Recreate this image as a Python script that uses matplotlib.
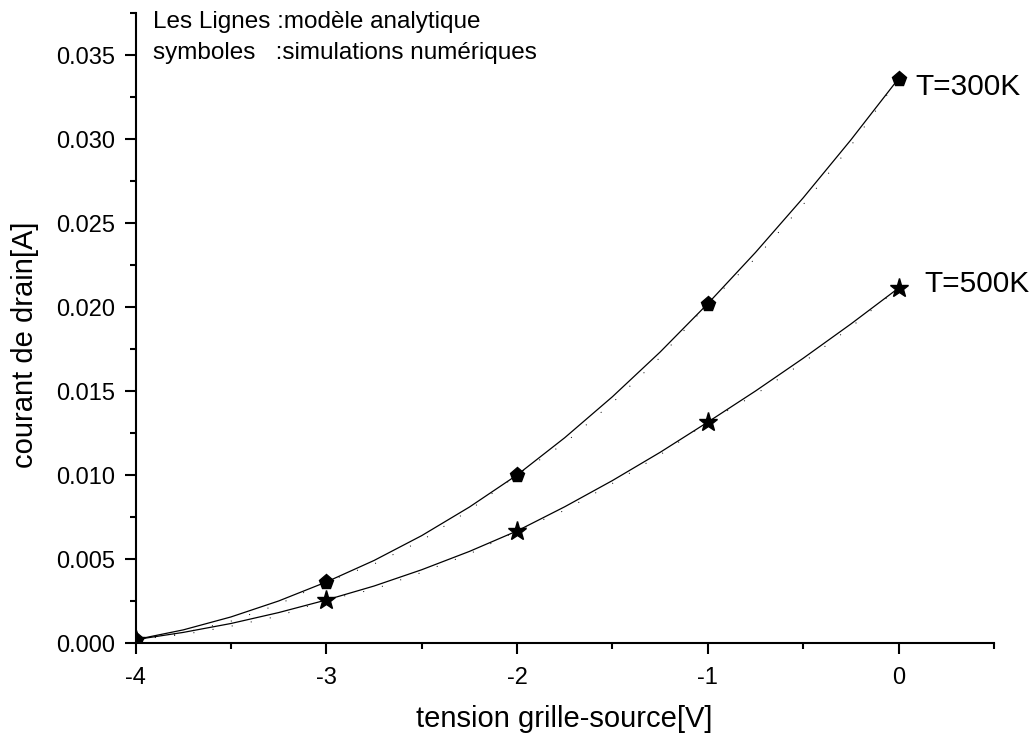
import matplotlib
matplotlib.use("Agg")
import matplotlib.pyplot as plt

plt.rcParams['font.family'] = ['Liberation Sans', 'DejaVu Sans']
plt.rcParams['axes.unicode_minus'] = False

# symboles : simulations numeriques
vgs_pts = [-4, -3, -2, -1, 0]
id_300_pts = [0.0002, 0.00363, 0.0100, 0.0202, 0.0336]
id_500_pts = [0.0002, 0.00256, 0.00667, 0.01315, 0.02113]

# lignes : modele analytique (lu sur la figure, pas de 0.25 V)
vgs_line = [-4.0, -3.75, -3.5, -3.25, -3.0, -2.75, -2.5, -2.25, -2.0,
            -1.75, -1.5, -1.25, -1.0, -0.75, -0.5, -0.25, 0.0]
id_300_line = [0.0002, 0.00078, 0.00155, 0.0025, 0.00363, 0.00491, 0.00639, 0.00809, 0.0100,
               0.01222, 0.01466, 0.01732, 0.0202, 0.02325, 0.0265, 0.02995, 0.0336]
id_500_line = [0.0002, 0.00063, 0.00116, 0.00181, 0.00256, 0.00339, 0.00436, 0.00545, 0.00667,
               0.00811, 0.00967, 0.01135, 0.01315, 0.0150, 0.01695, 0.01899, 0.02113]
# courbes pointillees
id_300_dot = [0.0002, 0.0006, 0.0013, 0.0023, 0.00363, 0.0047, 0.0061, 0.0079, 0.0100,
              0.0119, 0.0143, 0.0170, 0.0202, 0.0229, 0.0261, 0.0296, 0.0336]
id_500_dot = [0.0002, 0.0005, 0.0010, 0.0016, 0.00256, 0.0032, 0.0042, 0.0053, 0.00667,
              0.0079, 0.0095, 0.0112, 0.01315, 0.0148, 0.0167, 0.0188, 0.02113]

W, H = 1035, 737
fig = plt.figure(figsize=(W / 100, H / 100), dpi=100)
ax = fig.add_axes([135.5 / W, 1 - 643 / H, (994 - 135.5) / W, (643 - 13) / H])

ax.plot(vgs_line, id_300_dot, color="black", lw=0.7, ls=(0, (1, 19)))
ax.plot(vgs_line, id_500_dot, color="black", lw=0.7, ls=(0, (1, 19)))
ax.plot(vgs_line, id_300_line, color="black", lw=0.9)
ax.plot(vgs_line, id_500_line, color="black", lw=0.9)
ax.plot(vgs_pts, id_300_pts, ls="none", marker="p", ms=11, color="black")
ax.plot(vgs_pts, id_500_pts, ls="none", marker="*", ms=14, color="black")

ax.set_xlim(-4, 0.5)
ax.set_ylim(0, 0.0375)
ax.set_xticks([-4, -3, -2, -1, 0])
ax.set_xticks([-3.5, -2.5, -1.5, -0.5, 0.5], minor=True)
ax.set_yticks([0.000, 0.005, 0.010, 0.015, 0.020, 0.025, 0.030, 0.035])
ax.set_yticklabels(["0.000", "0.005", "0.010", "0.015", "0.020", "0.025", "0.030", "0.035"])
ax.set_yticks([0.0025, 0.0075, 0.0125, 0.0175, 0.0225, 0.0275, 0.0325, 0.0375], minor=True)

for side in ("top", "right"):
    ax.spines[side].set_visible(False)
for side in ("left", "bottom"):
    ax.spines[side].set_linewidth(1.5)
ax.tick_params(which="major", length=8, width=1.5, labelsize=17)
ax.tick_params(axis="x", which="major", pad=9)
ax.tick_params(axis="y", which="major", pad=7)
ax.tick_params(which="minor", length=4, width=1.5)

ax.set_xlabel("tension grille-source[V]", fontsize=21, va="center")
ax.set_ylabel("courant de drain[A]", fontsize=21, va="center")
ax.xaxis.set_label_coords(0.5, -0.121)
ax.yaxis.set_label_coords(-0.1287, 0.473)

fig.text(153 / W, 1 - 22 / H, "Les Lignes :modèle analytique", fontsize=17.5, va="center")
fig.text(153 / W, 1 - 53 / H, "symboles   :simulations numériques", fontsize=17.5, va="center")
fig.text(915 / W, 1 - 87 / H, "T=300K", fontsize=21.5, va="center")
fig.text(924 / W, 1 - 284 / H, "T=500K", fontsize=21.5, va="center")

fig.savefig("out.png", dpi=100)
